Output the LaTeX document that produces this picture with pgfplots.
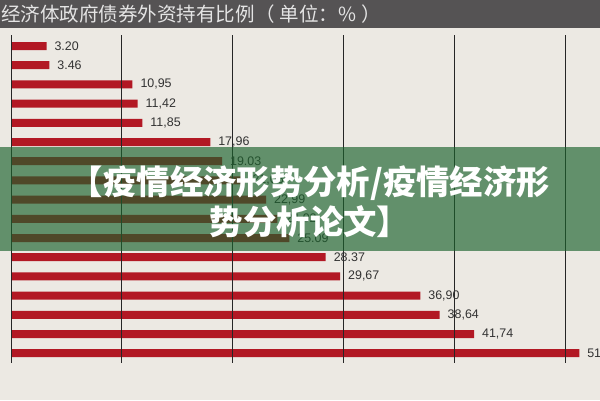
\documentclass[border=0pt]{standalone}
\usepackage{pgfplots}
\pgfplotsset{compat=1.18}
\usepackage{pgfplotstable}
\usepackage{fontspec}
\setmainfont{Liberation Sans}
\newfontfamily\cjk{Noto Sans CJK SC}
\definecolor{bgc}{RGB}{236,233,227}
\definecolor{hdr}{RGB}{85,83,84}
\definecolor{barred}{RGB}{178,24,36}
\definecolor{ovl}{RGB}{28,98,45}
\definecolor{lbl}{RGB}{50,50,50}
\definecolor{ttl}{RGB}{228,228,228}

\pgfplotstableread{
row val lab
1 3.20 3.20
2 3.46 3.46
3 10.95 10,95
4 11.42 11,42
5 11.85 11,85
6 17.96 17,96
7 19.03 19.03
8 21.05 21,05
9 22.99 22,99
10 24.02 24,02
11 25.09 25.09
12 28.37 28.37
13 29.67 29,67
14 36.90 36,90
15 38.64 38,64
16 41.74 41,74
17 51.22 51.22
}\datatab

\begin{document}
\begin{tikzpicture}[x=1bp,y=1bp]
\path[use as bounding box] (0,0) rectangle (600,400);
\clip (0,0) rectangle (600,400);
\fill[bgc] (0,0) rectangle (600,400);
\begin{axis}[
  at={(11bp,365bp)}, anchor=north west,
  scale only axis, width=554.7bp, height=328bp,
  xmin=0, xmax=50, ymin=0.427, ymax=17.51, y dir=reverse,
  axis line style={draw=none},
  xtick={0,10,20,30,40,50}, ytick=\empty, xticklabels={},
  major tick length=0,
  xmajorgrids, grid style={black!85, line width=0.9bp},
  axis on top,
  xbar, bar width=8bp,
  nodes near coords, point meta=explicit symbolic,
  nodes near coords style={font=\fontsize{12.5}{13}\selectfont, text=lbl, anchor=west, xshift=4.5bp},
  clip=false]
\addplot[fill=barred, draw=none] table[x=val, y=row, meta=lab] {\datatab};
\end{axis}
\fill[ovl, opacity=0.66] (0,149) rectangle (600,252.7);
\node[text=white, align=center, inner sep=0pt, font=\cjk\bfseries\fontsize{33.5}{40.5}\selectfont] at (310,198) {【疫情经济形势分析/疫情经济形\\势分析论文】};
\fill[hdr] (0,371.7) rectangle (600,400);
\node[anchor=west, inner sep=0pt, text=ttl, font=\cjk\fontsize{19.6}{20}\selectfont] at (1,386.2) {经济体政府债券外资持有比例（\hspace{5bp}单位：\%\hspace{5bp}）};
\end{tikzpicture}
\end{document}
